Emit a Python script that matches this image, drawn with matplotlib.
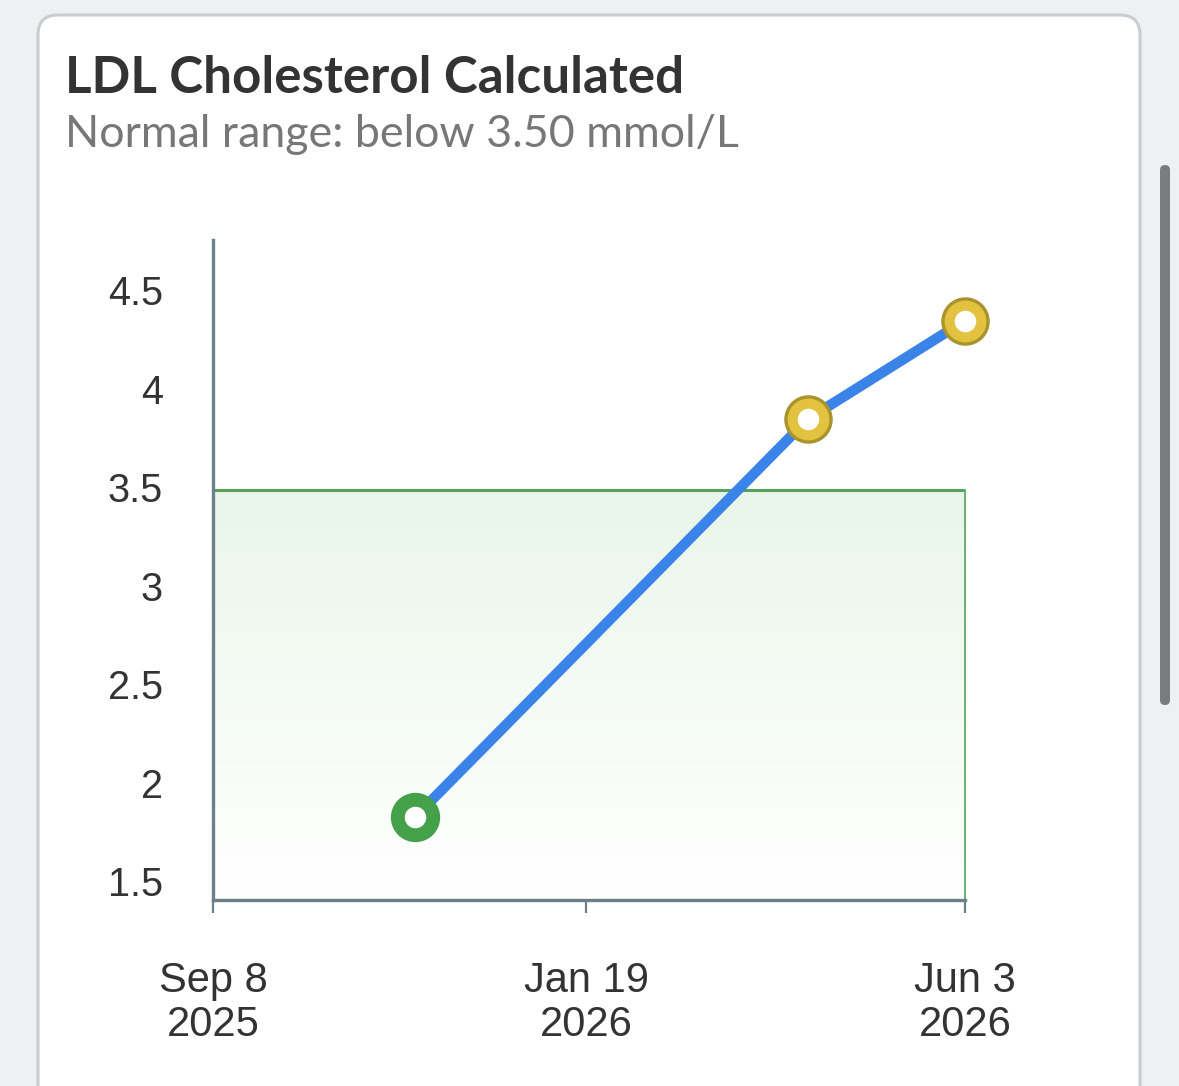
import matplotlib
matplotlib.use("Agg")
import matplotlib.pyplot as plt
import matplotlib.dates as mdates
import matplotlib.transforms as mtransforms
from matplotlib.patches import FancyBboxPatch
from matplotlib.colors import LinearSegmentedColormap
import numpy as np
import datetime as dt

# ---- data ----
title = "LDL Cholesterol Calculated"
subtitle = "Normal range: below 3.50 mmol/L"
dates = ["2025-11-19", "2026-04-08", "2026-06-03"]
values = [1.84, 3.86, 4.36]
statuses = ["normal", "high", "high"]
normal_upper = 3.5
x_start = "2025-09-08"
x_end = "2026-06-03"
xtick_dates = ["2025-09-08", "2026-01-19", "2026-06-03"]
xtick_labels = ["Sep 8\n2025", "Jan 19\n2026", "Jun 3\n2026"]
ytick_values = [1.5, 2, 2.5, 3, 3.5, 4, 4.5]
ytick_labels = ["1.5", "2", "2.5", "3", "3.5", "4", "4.5"]
y_min, y_max = 1.419, 4.769

W, H = 1179, 1086
fig = plt.figure(figsize=(W / 100, H / 100), dpi=100)
fig.patch.set_facecolor("#eef1f4")

# background axes in pixel units for card
bg = fig.add_axes([0, 0, 1, 1])
bg.set_xlim(0, W)
bg.set_ylim(H, 0)
bg.axis("off")
card = FancyBboxPatch((38, 15), 1102, 1200, boxstyle="round,pad=0,rounding_size=20",
                      facecolor="white", edgecolor="#c9ccd0", linewidth=2.2)
bg.add_patch(card)
scroll = FancyBboxPatch((1160, 165), 10, 540, boxstyle="round,pad=0,rounding_size=5",
                        facecolor="#7b7c7e", edgecolor="none")
bg.add_patch(scroll)
bg.text(65, 93, title, fontsize=36.8, fontweight="bold", color="#333333",
        family=["Lato", "DejaVu Sans"], va="baseline", ha="left")
bg.text(65, 147, subtitle, fontsize=32.2, color="#777777",
        family=["Lato", "DejaVu Sans"], va="baseline", ha="left")

# main axes
ax = fig.add_axes([213 / W, 1 - 900 / H, (965 - 213) / W, (900 - 240) / H])
ax.patch.set_alpha(0)
xd = [mdates.date2num(dt.date.fromisoformat(d)) for d in dates]
x0 = mdates.date2num(dt.date.fromisoformat(x_start))
x1 = mdates.date2num(dt.date.fromisoformat(x_end))

# normal range band with gradient
grad = np.linspace(0, 1, 256).reshape(-1, 1)
cmap = LinearSegmentedColormap.from_list("g", ["#ffffff", "#eaf6ea"])
ax.imshow(grad, extent=[x0, x1, y_min, normal_upper], origin="lower", cmap=cmap,
          aspect="auto", zorder=0, interpolation="bilinear")
ax.plot([x0, x1], [normal_upper, normal_upper], color="#55a35a", lw=2.2, zorder=1,
        solid_capstyle="projecting")
ax.plot([x1, x1], [y_min, normal_upper], color="#6bb06f", lw=1.4, zorder=1, clip_on=False)
ax.set_xlim(x0, x1)
ax.set_ylim(y_min, y_max)

# line
ax.plot(xd, values, color="#3a83e8", lw=7.5, zorder=3, solid_capstyle="round", clip_on=False)
for x, v, s in zip(xd, values, statuses):
    if s == "normal":
        ax.plot([x], [v], marker="o", ms=25.5, mfc="white", mec="#45a04a", mew=10,
                zorder=4, clip_on=False)
    else:
        ax.plot([x], [v], marker="o", ms=32.5, mfc="#e3c23f", mec="#a8932d", mew=2.4,
                zorder=4, clip_on=False)
        ax.plot([x], [v], marker="o", ms=15.5, mfc="white", mec="none",
                zorder=5, clip_on=False)

# axes styling
for sp in ["top", "right"]:
    ax.spines[sp].set_visible(False)
for sp in ["left", "bottom"]:
    ax.spines[sp].set_color("#6e7f8c")
    ax.spines[sp].set_linewidth(2.4)
ax.set_xticks([mdates.date2num(dt.date.fromisoformat(d)) for d in xtick_dates])
ax.set_xticklabels(xtick_labels, fontsize=30, color="#333333",
                   family=["Liberation Sans", "DejaVu Sans"], linespacing=1.12)
ax.set_yticks(ytick_values)
ax.set_yticklabels(ytick_labels, fontsize=28.5, color="#333333",
                   family=["Liberation Sans", "DejaVu Sans"])
ax.tick_params(axis="x", direction="out", length=9, width=1.6, color="#6e7f8c", pad=35)
ax.tick_params(axis="y", length=0, pad=36)
off = mtransforms.ScaledTranslation(0, 3 / 100, fig.dpi_scale_trans)
for lab in ax.get_yticklabels():
    lab.set_transform(lab.get_transform() + off)

fig.savefig("out.png", dpi=100, facecolor=fig.get_facecolor())
